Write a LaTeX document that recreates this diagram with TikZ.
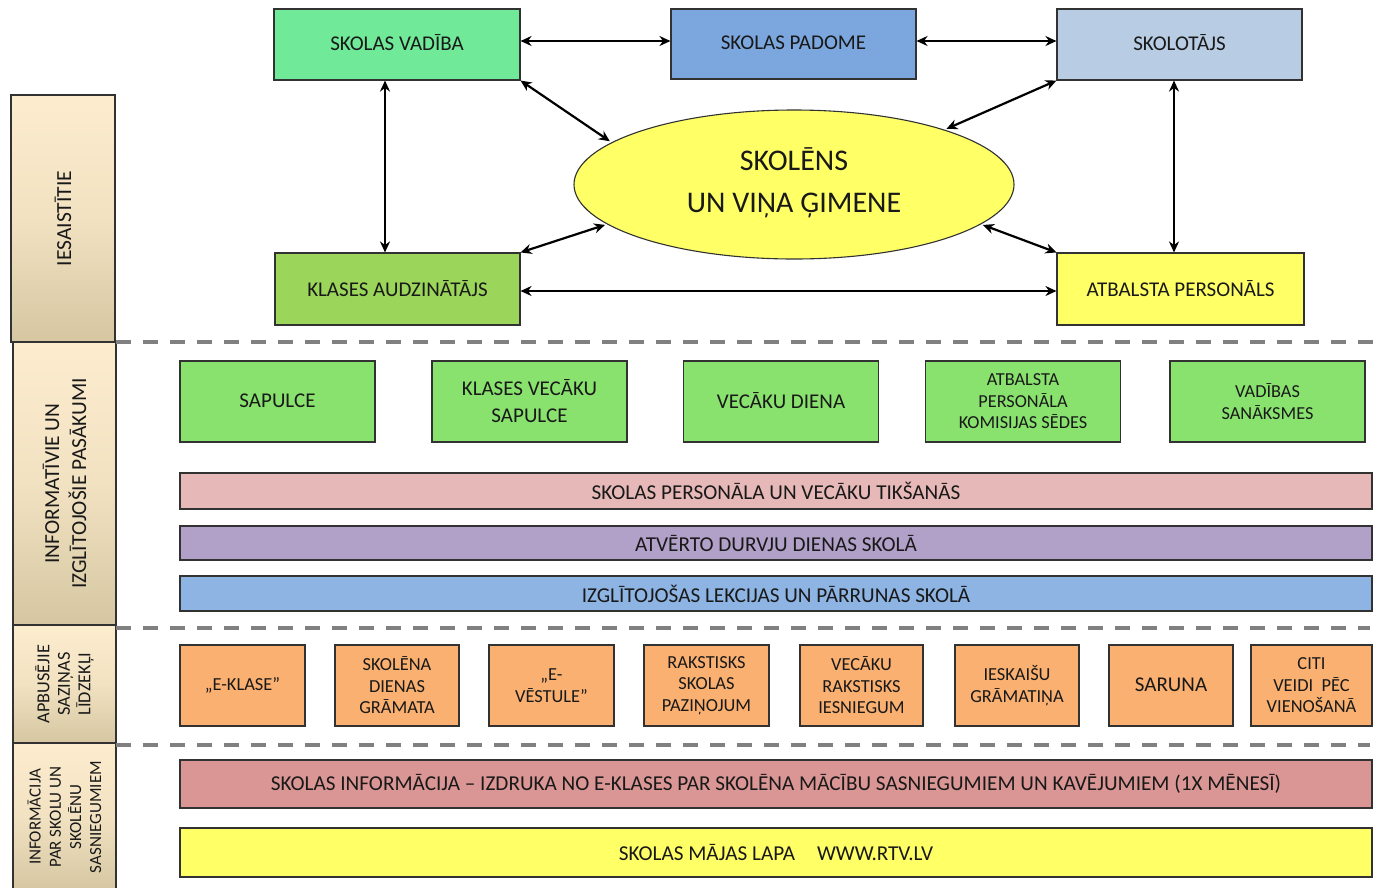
\documentclass[tikz,border=0pt]{standalone}
\usepackage{fontspec}
\setmainfont{Carlito}
\usetikzlibrary{arrows.meta,shapes.geometric}
\definecolor{cVad}{RGB}{112,234,153}
\definecolor{cPad}{RGB}{123,167,222}
\definecolor{cSkt}{RGB}{184,204,228}
\definecolor{cAud}{RGB}{155,214,91}
\definecolor{cYel}{RGB}{255,255,102}
\definecolor{cGrn}{RGB}{137,226,110}
\definecolor{cPink}{RGB}{230,184,183}
\definecolor{cLil}{RGB}{177,160,199}
\definecolor{cBlu}{RGB}{141,180,226}
\definecolor{cOra}{RGB}{249,176,112}
\definecolor{cRed}{RGB}{218,150,148}
\definecolor{cLabT}{RGB}{253,237,207}
\definecolor{cLabB}{RGB}{214,199,162}
\definecolor{cBord}{RGB}{50,50,50}
\definecolor{cDash}{RGB}{128,128,128}
\definecolor{cTxt}{RGB}{25,25,25}
\begin{document}
\begin{tikzpicture}[x=1pt,y=-1pt,
  box/.style={draw=cBord,line width=1.1pt,rectangle,inner sep=0pt,align=center,text=cTxt},
  topf/.style={font=\fontsize{21}{25}\selectfont},
  midf/.style={font=\fontsize{21}{27}\selectfont},
  smf/.style={font=\fontsize{18.3}{21.5}\selectfont},
  barf/.style={font=\fontsize{21.2}{25}\selectfont},
  oraf/.style={font=\fontsize{18.4}{21.5}\selectfont},
  labbox/.style={draw=cBord,line width=1.1pt,rectangle,inner sep=0pt,top color=cLabT,bottom color=cLabB,middle color=cLabT!70!cLabB},
  labtxt/.style={rotate=90,align=center,text=cTxt},
  dbl/.style={line width=2.2pt,{Stealth[length=11pt,width=10pt]}-{Stealth[length=11pt,width=10pt]}},
  sep/.style={draw=cDash,line width=3.6pt,dash pattern=on 15pt off 12pt}
]
\useasboundingbox (0,0) rectangle (1378,887);
% left strip
\node[labbox,minimum width=104pt,minimum height=247pt] (l1) at (63,218.5) {};
\node[labtxt,font=\fontsize{21.5}{25}\selectfont] (l1t) at (l1) {IESAISTĪTIE};
\node[labbox,minimum width=103pt,minimum height=283pt] (l2) at (64.5,483.5) {};
\node[labtxt,font=\fontsize{21.4}{27}\selectfont] (l2t) at (l2) {INFORMATĪVIE UN\\IZGLĪTOJOŠIE PASĀKUMI};
\node[labbox,minimum width=103pt,minimum height=118pt] (l3) at (64.5,684) {};
\node[labtxt,font=\fontsize{18.3}{20.5}\selectfont] (l3t) at (l3) {APBUSĒJIE\\SAZIŅAS\\LĪDZEKĻI};
\node[labbox,minimum width=103pt,minimum height=148pt] (l4) at (64.5,817) {};
\node[labtxt,font=\fontsize{17}{20.2}\selectfont] (l4t) at (l4) {INFORMĀCIJA\\PAR SKOLU UN\\SKOLĒNU\\SASNIEGUMIEM};
% separators
\draw[sep] (116,342) -- (1378,342);
\draw[sep] (116,628) -- (1370,628);
\draw[sep] (116,745) -- (1370,745);
% top part
\node[box,topf,fill=cVad,minimum width=246pt,minimum height=71pt] (vad) at (397,44.5) {\raisebox{3pt}{SKOLAS VADĪBA}};
\node[box,topf,fill=cPad,minimum width=245pt,minimum height=70pt] (pad) at (793.5,44) {\raisebox{3pt}{SKOLAS PADOME}};
\node[box,topf,fill=cSkt,minimum width=245pt,minimum height=71pt] (skt) at (1179.5,44.5) {\raisebox{3pt}{SKOLOTĀJS}};
\node[box,topf,fill=cAud,minimum width=245pt,minimum height=72pt] (aud) at (397.5,289) {\raisebox{2pt}{KLASES AUDZINĀTĀJS}};
\node[box,topf,fill=cYel,minimum width=247pt,minimum height=72pt] (atb) at (1180.5,289) {\raisebox{2pt}{ATBALSTA PERSONĀLS}};
\node[draw=cBord,line width=1.1pt,ellipse,fill=cYel,inner sep=0pt,minimum width=440pt,minimum height=149pt,align=center,text=cTxt,font=\fontsize{30}{42}\selectfont] (ell) at (794,184.5) {SKOLĒNS\\UN VIŅA ĢIMENE\rule[-8pt]{0pt}{1pt}};
\draw[dbl] ([yshift=3.5pt]vad.east) -- ([yshift=3pt]pad.west);
\draw[dbl] ([yshift=3pt]pad.east) -- ([yshift=3.5pt]skt.west);
\draw[dbl] ([xshift=-12pt]vad.south) -- ([xshift=-12.5pt]aud.north);
\draw[dbl] ([xshift=-5.5pt]skt.south) -- ([xshift=-6.5pt]atb.north);
\draw[dbl] ([yshift=-2pt]aud.east) -- ([yshift=-2pt]atb.west);
\draw[dbl,shorten >=2pt] (vad.south east) -- (ell.167);
\draw[dbl,shorten >=2pt] (skt.south west) -- (ell.20);
\draw[dbl,shorten >=2pt] (aud.north east) -- (ell.192);
\draw[dbl,shorten >=2pt] (atb.north west) -- (ell.348);
% informative events
\node[box,midf,fill=cGrn,minimum width=195pt,minimum height=81pt] (s1) at (277.5,401.5) {\raisebox{2pt}{SAPULCE}};
\node[box,midf,fill=cGrn,minimum width=195pt,minimum height=81pt] (s2) at (529.5,401.5) {KLASES VECĀKU\\SAPULCE};
\node[box,midf,fill=cGrn,minimum width=195pt,minimum height=81pt] (s3) at (781,401.5) {\raisebox{1.5pt}{VECĀKU DIENA}};
\node[box,smf,fill=cGrn,minimum width=195pt,minimum height=81pt] (s4) at (1023,401.5) {ATBALSTA\\PERSONĀLA\\KOMISIJAS SĒDES};
\node[box,smf,fill=cGrn,minimum width=195pt,minimum height=81pt] (s5) at (1267.5,401.5) {VADĪBAS\\SANĀKSMES};
\node[box,barf,fill=cPink,minimum width=1192pt,minimum height=36pt] (b1) at (776,491) {SKOLAS PERSONĀLA UN VECĀKU TIKŠANĀS};
\node[box,barf,fill=cLil,minimum width=1192pt,minimum height=34pt] (b2) at (776,543) {ATVĒRTO DURVJU DIENAS SKOLĀ};
\node[box,barf,fill=cBlu,minimum width=1192pt,minimum height=35pt] (b3) at (776,593.5) {IZGLĪTOJOŠAS LEKCIJAS UN PĀRRUNAS SKOLĀ};
% communication means
\node[box,oraf,fill=cOra,minimum width=125pt,minimum height=81pt] (o1) at (242.5,685.5) {\raisebox{2pt}{„E-KLASE”}};
\node[box,oraf,fill=cOra,minimum width=124pt,minimum height=81pt] (o2) at (397,685.5) {SKOLĒNA\\DIENAS\\GRĀMATA};
\node[box,oraf,fill=cOra,minimum width=125pt,minimum height=81pt] (o3) at (551.5,685.5) {„E-\\VĒSTULE”};
\node[box,oraf,fill=cOra,minimum width=125pt,minimum height=81pt] (o4) at (706.5,685.5) {RAKSTISKS\\SKOLAS\\PAZIŅOJUM};
\node[box,oraf,fill=cOra,minimum width=123pt,minimum height=81pt] (o5) at (861.5,685.5) {VECĀKU\\RAKSTISKS\\IESNIEGUM};
\node[box,oraf,fill=cOra,minimum width=124pt,minimum height=81pt] (o6) at (1017,685.5) {IESKAIŠU\\GRĀMATIŅA};
\node[box,midf,fill=cOra,minimum width=124pt,minimum height=81pt] (o7) at (1171,685.5) {\raisebox{2pt}{SARUNA}};
\node[box,oraf,fill=cOra,minimum width=121pt,minimum height=81pt] (o8) at (1311.5,685.5) {CITI\\VEIDI\ \ PĒC\\VIENOŠANĀ};
% info
\node[box,barf,fill=cRed,minimum width=1192pt,minimum height=48pt] (c1) at (776,784) {SKOLAS INFORMĀCIJA – IZDRUKA NO E-KLASES PAR SKOLĒNA MĀCĪBU SASNIEGUMIEM UN KAVĒJUMIEM (1X MĒNESĪ)};
\node[box,barf,fill=cYel,minimum width=1192pt,minimum height=49pt] (c2) at (776,852.5) {SKOLAS MĀJAS LAPA\hspace{22pt}WWW.RTV.LV};
\end{tikzpicture}
\end{document}
